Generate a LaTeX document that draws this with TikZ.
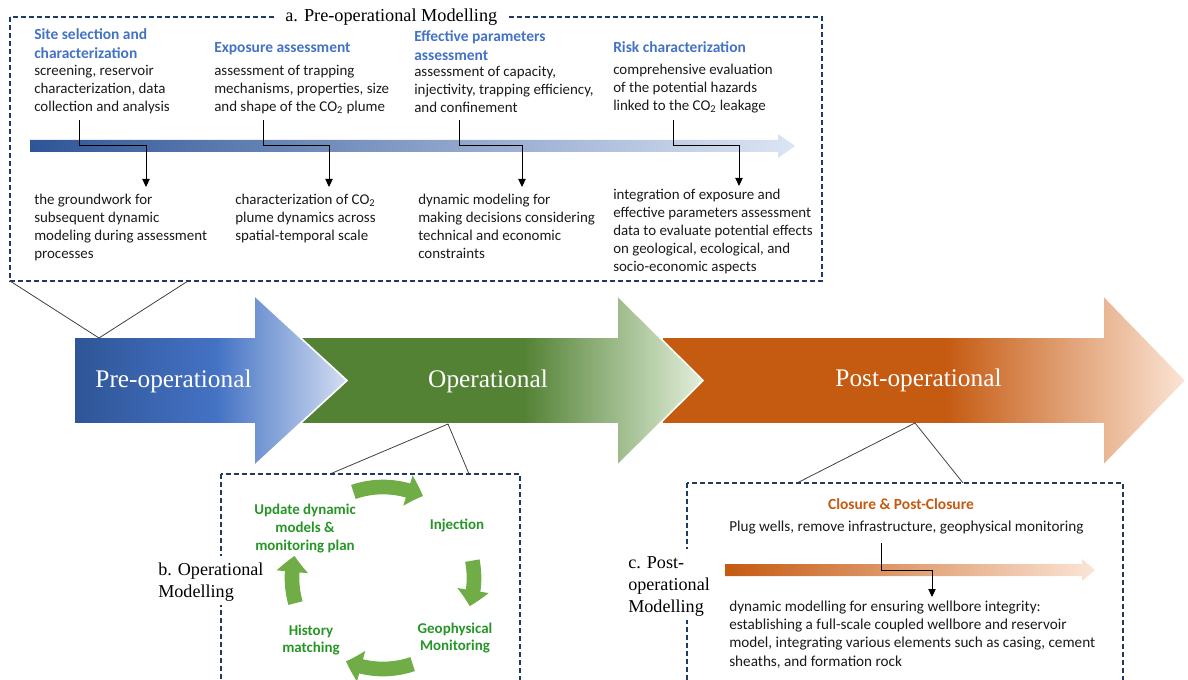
\documentclass[tikz,border=0pt]{standalone}
\usepackage{fontspec}
\setmainfont{Liberation Serif}
\newfontfamily\calib{Carlito}
\usetikzlibrary{arrows.meta,bending,calc}

\definecolor{navy}{HTML}{1F3864}
\definecolor{headblue}{HTML}{4472C4}
\definecolor{txt}{HTML}{1A1A1A}
\definecolor{bDark}{HTML}{2F5597}
\definecolor{bMid}{HTML}{4472C4}
\definecolor{bLight}{HTML}{D3DEF2}
\definecolor{bBar}{HTML}{DCE5F4}
\definecolor{gDark}{HTML}{548235}
\definecolor{gLight}{HTML}{E2EFDA}
\definecolor{oDark}{HTML}{C55A11}
\definecolor{oLight}{HTML}{FBE5D6}
\definecolor{cyc}{HTML}{70AD47}
\definecolor{gtxt}{RGB}{38,150,38}
\definecolor{otxt}{HTML}{C55A11}
\definecolor{callout}{HTML}{404040}

\pgfdeclarehorizontalshading{blueS}{100bp}{color(0bp)=(bDark); color(25bp)=(bDark); color(51bp)=(bMid); color(75bp)=(bLight); color(100bp)=(bLight)}
\pgfdeclarehorizontalshading{greenS}{100bp}{color(0bp)=(gDark); color(25bp)=(gDark); color(53bp)=(gDark); color(75bp)=(gLight); color(100bp)=(gLight)}
\pgfdeclarehorizontalshading{orangeS}{100bp}{color(0bp)=(oDark); color(25bp)=(oDark); color(52bp)=(oDark); color(75bp)=(oLight); color(100bp)=(oLight)}

\begin{document}
\begin{tikzpicture}[x=0.75pt,y=-0.75pt,
  dashbox/.style={draw=navy, line width=1.1pt, dash pattern=on 4pt off 2pt},
  callout/.style={draw=callout, line width=0.6pt},
  conn/.style={draw=black, line width=0.75pt, -{Triangle[width=5.5pt,length=6pt]}},
  bigarrow/.style={draw=white, line width=1.2pt},
  arrowlab/.style={font=\fontsize{19}{22}\selectfont, text=white, inner sep=0pt},
  serlab/.style={font=\fontsize{13.6}{16.5}\selectfont, text=black, align=left, fill=white, inner sep=3pt, anchor=north west},
  body/.style={font=\calib\fontsize{11.2}{13.5}\selectfont, text=txt, align=left, anchor=north west, inner sep=0pt},
  bodyc/.style={font=\calib\fontsize{11.4}{13.8}\selectfont, text=txt, align=left, anchor=north west, inner sep=0pt},
  head/.style={font=\calib\bfseries\fontsize{11.6}{14.25}\selectfont, text=headblue, align=left, anchor=north west, inner sep=0pt},
  glab/.style={font=\calib\bfseries\fontsize{11.2}{13.5}\selectfont, text=gtxt, align=center, anchor=north, inner sep=0pt},
  glab2/.style={font=\calib\bfseries\fontsize{11.2}{12.75}\selectfont, text=gtxt, align=center, anchor=north, inner sep=0pt},
  cycarrow/.style={draw=cyc, line width=11pt, -{Triangle[width=23pt,length=12pt,bend]}}
]
\useasboundingbox (0,0) rectangle (1188,680);
\clip (0,0) rectangle (1188,680);

% ---------- big phase arrows ----------
\shadedraw[shading=orangeS, bigarrow] (662,337) -- (1103,337) -- (1103,295) -- (1186,380.5) -- (1103,466) -- (1103,424) -- (662,424) -- cycle;
\shadedraw[shading=greenS, bigarrow] (296,337) -- (617,337) -- (617,295) -- (703,380.5) -- (617,466) -- (617,424) -- (296,424) -- cycle;
\shadedraw[shading=blueS, bigarrow] (74,337) -- (254,337) -- (254,295) -- (347,380.5) -- (254,466) -- (254,424) -- (74,424) -- cycle;

\node[arrowlab] (pre) at (173.5,381) {Pre-operational};
\node[arrowlab] (op) at (488,381) {Operational};
\node[arrowlab] (post) at (918.5,380) {Post-operational};

% ---------- box a ----------
\draw[dashbox] (10,17) rectangle (822,281);
\node[font=\fontsize{13.7}{16}\selectfont, fill=white, inner xsep=7.5pt, inner ysep=2pt, anchor=base west] (titleA) at (275,22) {a. Pre-operational Modelling\hspace{11pt}};

\shade[left color=bDark, right color=bBar] (30,140) -- (778,140) -- (778,134) -- (795,146) -- (778,158) -- (778,152) -- (30,152) -- cycle;

\node[head] (h1) at (34,26.2) {\strut Site selection and\\characterization};
\node[body] (b1) at (34,62.6) {\strut screening, reservoir\\characterization, data\\collection and analysis};
\node[head] (h2) at (214,39.2) {\strut Exposure assessment};
\node[body] (b2) at (214,62.6) {\strut assessment of trapping\\mechanisms, properties, size\\and shape of the CO\textsubscript{2} plume};
\node[head] (h3) at (414,28.2) {\strut Effective parameters\\assessment};
\node[body] (b3) at (414,63.6) {\strut assessment of capacity,\\injectivity, trapping efficiency,\\and confinement};
\node[head] (h4) at (613,39.2) {\strut Risk characterization};
\node[body] (b4) at (613,61.6) {\strut comprehensive evaluation\\of the potential hazards\\linked to the CO\textsubscript{2} leakage};

\node[body] (l1) at (34,191.4) {\strut the groundwork for\\subsequent dynamic\\modeling during assessment\\processes};
\node[body] (l2) at (235,191.4) {\strut characterization of CO\textsubscript{2}\\plume dynamics across\\spatial-temporal scale};
\node[body] (l3) at (418,191.4) {\strut dynamic modeling for\\making decisions considering\\technical and economic\\constraints};
\node[body] (l4) at (613,186.4) {\strut integration of exposure and\\effective parameters assessment\\data to evaluate potential effects\\on geological, ecological, and\\socio-economic aspects};

\coordinate (s1) at (79,120);  \coordinate (e1) at (146,187);
\coordinate (s2) at (263,120); \coordinate (e2) at (329,187);
\coordinate (s3) at (459,120); \coordinate (e3) at (522,187);
\coordinate (s4) at (673,120); \coordinate (e4) at (739,186);
\draw[conn] (s1) -- (s1 |- 0,146) -| (e1);
\draw[conn] (s2) -- (s2 |- 0,146) -| (e2);
\draw[conn] (s3) -- (s3 |- 0,146) -| (e3);
\draw[conn] (s4) -- (s4 |- 0,146) -| (e4);

% callout a
\coordinate (aL) at (10,281); \coordinate (aR) at (188,281); \coordinate (aP) at (99,338);
\draw[callout] (aL) -- (aP) -- (aR);

% ---------- box b ----------
\coordinate (bL) at (330,474); \coordinate (bR) at (469,474); \coordinate (bP) at (448,424);
\draw[callout] (bL) -- (bP) -- (bR);
\draw[dashbox] (221,474) rectangle (520,700);
\node[serlab] (labB) at (154,555.6) {\strut b. Operational\\Modelling};

\coordinate (cc) at (383,578);
\draw[cycarrow] ([shift={(251:91)}]cc) arc[start angle=251, end angle=296, radius=91];
\draw[cycarrow] ([shift={(-11:91)}]cc) arc[start angle=-11, end angle=18, radius=91];
\draw[cycarrow] ([shift={(71:91)}]cc) arc[start angle=71, end angle=114, radius=91];
\draw[cycarrow] ([shift={(164:91)}]cc) arc[start angle=164, end angle=194, radius=91];

\node[glab] (upd) at (305,501.4) {\strut Update dynamic\\models \&\\monitoring plan};
\node[glab] (inj) at (457,517) {\strut Injection};
\node[glab2] (geo) at (455,621.5) {\strut Geophysical\\Monitoring};
\node[glab2] (hist) at (311,623.5) {\strut History\\matching};

% ---------- box c ----------
\coordinate (cL) at (797,483); \coordinate (cR) at (963,483); \coordinate (cP) at (915,423);
\draw[callout] (cL) -- (cP) -- (cR);
\draw[dashbox] (687,483) rectangle (1123,700);
\node[serlab] (labC) at (624,548.6) {\strut c. Post-\\operational\\Modelling};

\node[font=\calib\bfseries\fontsize{11.6}{13.5}\selectfont, text=otxt, inner sep=0pt, anchor=base] (clos) at (901,509) {Closure \& Post-Closure};
\node[bodyc] (plug) at (729,518.4) {\strut Plug wells, remove infrastructure, geophysical monitoring};
\shade[left color=oDark, right color=oLight] (725,564) -- (1082,564) -- (1082,559) -- (1095,570) -- (1082,581) -- (1082,576) -- (725,576) -- cycle;
\node[bodyc] (dyn) at (729,598) {\strut dynamic modelling for ensuring wellbore integrity:\\establishing a full-scale coupled wellbore and reservoir\\model, integrating various elements such as casing, cement\\sheaths, and formation rock};

\coordinate (s5) at (881,543); \coordinate (e5) at (932,597);
\draw[conn] (s5) -- (s5 |- 0,570) -| (e5);
\end{tikzpicture}
\end{document}
